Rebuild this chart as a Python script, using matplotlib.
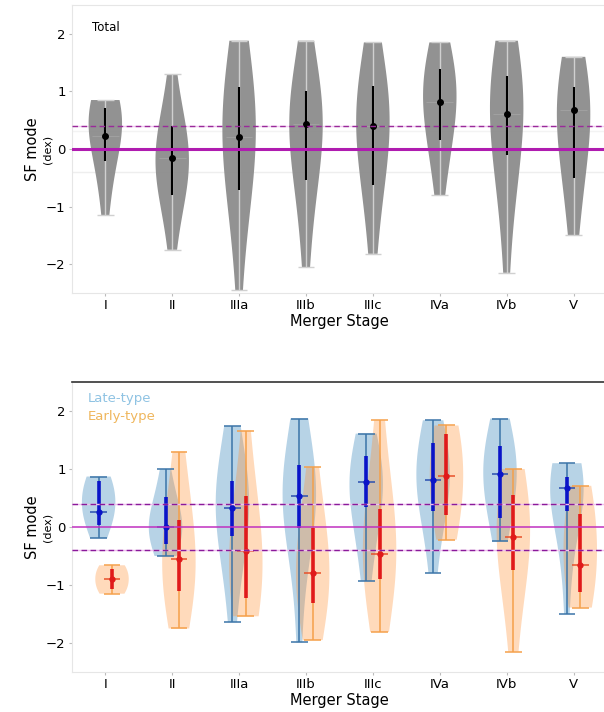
import numpy as np
import matplotlib
matplotlib.use('Agg')
import matplotlib.pyplot as plt

# Merger stages
stages = ['I', 'II', 'IIIa', 'IIIb', 'IIIc', 'IVa', 'IVb', 'V']

# Total sample: SF mode values per stage
total_I = [0.85, 0.84, 0.82, 0.78, 0.72, 0.65, 0.6, 0.5, 0.45, 0.35, 0.3, 0.2, 0.1, -0.05, -0.25, -0.5, -0.8, -1.15]
total_II = [1.3, 0.8, 0.5, 0.3, 0.1, 0.0, -0.1, -0.15, -0.2, -0.25, -0.3, -0.4, -0.5, -0.7, -0.9, -1.2, -1.75]
total_IIIa = [1.88, 1.7, 1.5, 1.3, 1.1, 0.9, 0.7, 0.5, 0.4, 0.3, 0.2, 0.1, 0.0, -0.1, -0.3, -0.5, -0.8, -1.1, -1.5, -2.45]
total_IIIb = [1.88, 1.3, 1.0, 0.8, 0.7, 0.6, 0.55, 0.5, 0.4, 0.3, 0.1, -0.1, -0.4, -0.8, -1.3, -2.05]
total_IIIc = [1.85, 1.5, 1.2, 1.0, 0.8, 0.7, 0.6, 0.5, 0.4, 0.3, 0.1, -0.1, -0.4, -0.7, -1.1, -1.82]
total_IVa = [1.85, 1.6, 1.45, 1.3, 1.2, 1.1, 1.0, 0.9, 0.8, 0.6, 0.4, 0.2, 0.0, -0.3, -0.8]
total_IVb = [1.88, 1.6, 1.4, 1.2, 1.1, 1.0, 0.9, 0.8, 0.6, 0.4, 0.2, 0.0, -0.3, -0.6, -1.0, -2.15]
total_V = [1.6, 1.55, 1.4, 1.1, 0.9, 0.8, 0.7, 0.6, 0.5, 0.4, 0.2, 0.0, -0.3, -0.7, -1.1, -1.5]
total_med = [0.22, -0.15, 0.2, 0.43, 0.4, 0.82, 0.6, 0.68]
total_lo = [-0.2, -0.8, -0.72, -0.53, -0.62, 0.15, -0.1, -0.5]
total_hi = [0.72, 0.4, 1.08, 1.0, 1.1, 1.38, 1.27, 1.07]

# Late-type galaxies
late_I = [0.87, 0.85, 0.8, 0.7, 0.55, 0.45, 0.35, 0.27, 0.2, 0.1, 0.0, -0.19]
late_II = [1.0, 0.7, 0.4, 0.2, 0.1, 0.0, -0.05, -0.1, -0.2, -0.3, -0.5]
late_IIIa = [1.74, 1.2, 0.9, 0.7, 0.5, 0.4, 0.33, 0.2, 0.0, -0.3, -0.7, -1.64]
late_IIIb = [1.87, 1.3, 1.0, 0.8, 0.65, 0.55, 0.5, 0.4, 0.2, 0.0, -0.5, -1.99]
late_IIIc = [1.61, 1.3, 1.1, 0.95, 0.85, 0.77, 0.7, 0.5, 0.3, 0.0, -0.4, -0.93]
late_IVa = [1.84, 1.6, 1.4, 1.2, 1.0, 0.9, 0.81, 0.7, 0.5, 0.3, 0.0, -0.79]
late_IVb = [1.87, 1.6, 1.4, 1.2, 1.05, 0.91, 0.8, 0.6, 0.4, 0.1, -0.25]
late_V = [1.1, 1.05, 0.95, 0.85, 0.75, 0.7, 0.67, 0.6, 0.5, 0.3, 0.0, -0.6, -1.5]
late_med = [0.26, 0.0, 0.33, 0.53, 0.77, 0.81, 0.91, 0.67]
late_lo = [0.03, -0.3, -0.16, -0.01, 0.34, 0.27, 0.15, 0.28]
late_hi = [0.8, 0.52, 0.79, 1.07, 1.22, 1.44, 1.4, 0.87]

# Early-type galaxies
early_I = [-0.66, -0.66, -0.68, -0.72, -0.78, -0.84, -0.9, -0.96, -1.02, -1.08, -1.13, -1.15, -1.15]
early_II = [1.3, 0.8, 0.4, 0.1, -0.2, -0.4, -0.56, -0.7, -0.9, -1.0, -1.2, -1.4, -1.75]
early_IIIa = [1.66, 0.9, 0.5, 0.2, -0.1, -0.3, -0.41, -0.6, -0.8, -1.0, -1.2, -1.4, -1.5, -1.54]
early_IIIb = [1.03, 0.4, 0.0, -0.3, -0.6, -0.79, -0.9, -1.1, -1.3, -1.5, -1.95]
early_IIIc = [1.84, 1.0, 0.5, 0.2, -0.1, -0.3, -0.46, -0.6, -0.8, -1.0, -1.3, -1.81]
early_IVa = [1.75, 1.72, 1.6, 1.4, 1.2, 1.0, 0.88, 0.7, 0.5, 0.3, 0.1, -0.15, -0.22]
early_IVb = [1.0, 0.8, 0.5, 0.3, 0.0, -0.18, -0.3, -0.5, -0.8, -1.2, -2.15]
early_V = [0.71, 0.68, 0.5, 0.3, 0.1, -0.1, -0.3, -0.5, -0.65, -0.8, -1.0, -1.2, -1.35, -1.39]
early_med = [-0.9, -0.56, -0.41, -0.79, -0.46, 0.88, -0.18, -0.65]
early_lo = [-1.07, -1.1, -1.23, -1.31, -0.9, 0.2, -0.75, -1.12]
early_hi = [-0.72, 0.12, 0.54, -0.02, 0.31, 1.6, 0.55, 0.22]

total = [total_I, total_II, total_IIIa, total_IIIb, total_IIIc, total_IVa, total_IVb, total_V]
late = [late_I, late_II, late_IIIa, late_IIIb, late_IIIc, late_IVa, late_IVb, late_V]
early = [early_I, early_II, early_IIIa, early_IIIb, early_IIIc, early_IVa, early_IVb, early_V]

pos = np.arange(1, len(stages) + 1)
w = 0.5

fig = plt.figure(figsize=(6.04, 7.12), dpi=100)
ax1 = fig.add_axes([0.119, 0.5885, 0.886, 0.4045])
ax2 = fig.add_axes([0.119, 0.0562, 0.886, 0.4073])


def style_axes(ax):
    for s in ax.spines.values():
        s.set_color('#e6e6e6')
    ax.set_xlim(0.5, 8.5)
    ax.set_ylim(-2.5, 2.5)
    ax.set_xticks(pos)
    ax.set_xticklabels(stages, fontsize=9.5)
    ax.set_yticks([-2, -1, 0, 1, 2])
    ax.set_yticklabels(['\u22122', '\u22121', '0', '1', '2'], fontsize=9.5)
    ax.tick_params(length=2.5, color='#bbbbbb', pad=2)
    ax.set_xlabel('Merger Stage', fontsize=10.5, labelpad=1)
    ax.text(-0.074, 0.5, 'SF mode', rotation=90, transform=ax.transAxes,
            ha='center', va='center', fontsize=10.5)
    ax.text(-0.046, 0.5, '(dex)', rotation=90, transform=ax.transAxes,
            ha='center', va='center', fontsize=8)


# ---- Top panel: total sample
style_axes(ax1)
ax1.axhline(0.4, color='#f2c8f2', lw=1.0, zorder=0)
ax1.axhline(0.32, color='#f3f3f3', lw=1.0, zorder=0)
ax1.axhline(-0.4, color='#eeeeee', lw=1.0, zorder=0)
vp = ax1.violinplot(total, positions=pos, widths=w, showextrema=True, bw_method=1.0)
for b in vp['bodies']:
    b.set_facecolor('#8c8c8c')
    b.set_edgecolor('none')
    b.set_alpha(0.95)
for k in ['cbars', 'cmins', 'cmaxes']:
    vp[k].set_color('#d0d0d0')
    vp[k].set_linewidth(1.0)
ax1.hlines(total_med, pos - 0.2, pos + 0.2, color='#a0a0a0', lw=0.8, zorder=3)
ax1.vlines(pos, total_lo, total_hi, color='black', lw=1.5, zorder=4)
ax1.plot(pos, total_med, 'o', color='black', ms=4, zorder=5)
ax1.axhline(0, color='#b01cb0', lw=2.2, zorder=6)
ax1.axhline(0.4, color='#9a2a9a', lw=1.0, ls='--', dashes=(4, 2.5), zorder=6)
ax1.text(0.037, 0.945, 'Total', transform=ax1.transAxes, fontsize=8.5,
         ha='left', va='top')

# ---- Bottom panel: late vs early type
style_axes(ax2)
ax2.spines['top'].set_color('#333333')
ax2.spines['top'].set_linewidth(1.2)

off = 0.1
vl = ax2.violinplot(late, positions=pos - off, widths=w, showextrema=True, bw_method=1.0)
for b in vl['bodies']:
    b.set_facecolor('#1f77b4')
    b.set_edgecolor('none')
    b.set_alpha(0.32)
for k in ['cbars', 'cmins', 'cmaxes']:
    vl[k].set_color('#3b74a8')
    vl[k].set_linewidth(1.1)

ve = ax2.violinplot(early, positions=pos + off, widths=w, showextrema=True, bw_method=1.0)
for b in ve['bodies']:
    b.set_facecolor('#ff8c2e')
    b.set_edgecolor('none')
    b.set_alpha(0.32)
for k in ['cbars', 'cmins', 'cmaxes']:
    ve[k].set_color('#f5a04a')
    ve[k].set_linewidth(1.1)

ax2.hlines(late_med, pos - off - 0.125, pos - off + 0.125, color='#2a4fb0', lw=1.1, zorder=3)
ax2.hlines(early_med, pos + off - 0.125, pos + off + 0.125, color='#e8502a', lw=1.1, zorder=3)
ax2.vlines(pos - off, late_lo, late_hi, color='#0a14c8', lw=2.6, zorder=4)
ax2.vlines(pos + off, early_lo, early_hi, color='#e01a1a', lw=2.6, zorder=4)
ax2.plot(pos - off, late_med, 'o', color='#0a14c8', ms=3.5, zorder=5)
ax2.plot(pos + off, early_med, 'o', color='#e01a1a', ms=3.5, zorder=5)

ax2.axhline(0, color='#c030c0', lw=1.1, zorder=6)
for yv in (0.4, -0.4):
    ax2.axhline(yv, color='#f0c0f0', lw=1.0, zorder=5)
    ax2.axhline(yv, color='#8a1a9a', lw=1.0, ls='--', dashes=(4, 2.5), zorder=6)

ax2.text(0.03, 0.965, 'Late-type', transform=ax2.transAxes, fontsize=9.5,
         color='#8fc3e3', ha='left', va='top')
ax2.text(0.03, 0.905, 'Early-type', transform=ax2.transAxes, fontsize=9.5,
         color='#efb65c', ha='left', va='top')

fig.savefig('out.png', dpi=100)
